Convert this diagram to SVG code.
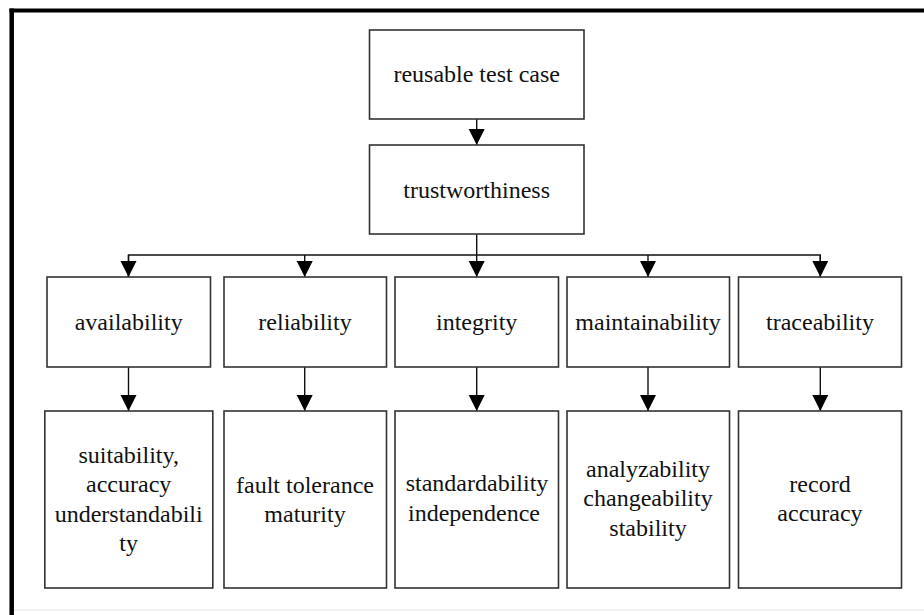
<svg xmlns="http://www.w3.org/2000/svg" width="924" height="615" viewBox="0 0 924 615">
<style>
.box{fill:#fff;stroke:#333;stroke-width:1.6}
.t{font-family:"Liberation Serif","Times New Roman",serif;font-size:24px;fill:#111;text-anchor:middle}
.c{fill:none;stroke:#111;stroke-width:1.4}
</style>
<defs>
<marker id="ah" markerUnits="userSpaceOnUse" markerWidth="16" markerHeight="18" refX="16" refY="8" orient="auto">
<path d="M0,0 L16,8 L0,16 Z" fill="#000"/>
</marker>
</defs>
<rect x="0" y="0" width="924" height="615" fill="#fff"/>
<g id="frame">
<line x1="9.5" y1="10.5" x2="924" y2="10.5" stroke="#000" stroke-width="4"/>
<line x1="11.7" y1="8.5" x2="11.7" y2="615" stroke="#000" stroke-width="4.5"/>
<line x1="14" y1="610" x2="924" y2="610" stroke="#eee" stroke-width="1.5"/>
</g>
<g id="connectors">
<line class="c" x1="476.7" y1="119" x2="476.7" y2="145" marker-end="url(#ah)"/>
<line class="c" x1="476.7" y1="234" x2="476.7" y2="277" marker-end="url(#ah)"/>
<polyline class="c" points="128.5,277 128.5,255 820.3,255 820.3,277"/>
<line class="c" x1="128.5" y1="255" x2="128.5" y2="277" marker-end="url(#ah)"/>
<line class="c" x1="304.7" y1="255" x2="304.7" y2="277" marker-end="url(#ah)"/>
<line class="c" x1="648" y1="255" x2="648" y2="277" marker-end="url(#ah)"/>
<line class="c" x1="820.3" y1="255" x2="820.3" y2="277" marker-end="url(#ah)"/>
<line class="c" x1="128.5" y1="367" x2="128.5" y2="411" marker-end="url(#ah)"/>
<line class="c" x1="304.7" y1="367" x2="304.7" y2="411" marker-end="url(#ah)"/>
<line class="c" x1="476.7" y1="367" x2="476.7" y2="411" marker-end="url(#ah)"/>
<line class="c" x1="648" y1="367" x2="648" y2="411" marker-end="url(#ah)"/>
<line class="c" x1="820.3" y1="367" x2="820.3" y2="411" marker-end="url(#ah)"/>
</g>
<g id="reusable">
<rect class="box" x="369.5" y="30" width="214.5" height="89"/>
<text class="t" x="476.7" y="82">reusable test case</text>
</g>
<g id="trustworthiness">
<rect class="box" x="369.5" y="145" width="214.5" height="89"/>
<text class="t" x="476.7" y="198">trustworthiness</text>
</g>
<g id="availability">
<rect class="box" x="47" y="277" width="163.5" height="90"/>
<text class="t" x="128.7" y="330">availability</text>
</g>
<g id="reliability">
<rect class="box" x="224" y="277" width="162.5" height="90"/>
<text class="t" x="305" y="330">reliability</text>
</g>
<g id="integrity">
<rect class="box" x="395" y="277" width="163.5" height="90"/>
<text class="t" x="476.7" y="330">integrity</text>
</g>
<g id="maintainability">
<rect class="box" x="567" y="277" width="162.5" height="90"/>
<text class="t" x="648" y="330">maintainability</text>
</g>
<g id="traceability">
<rect class="box" x="738.5" y="277" width="163" height="90"/>
<text class="t" x="820" y="330">traceability</text>
</g>
<g id="availability-sub">
<rect class="box" x="44.8" y="411" width="168" height="177"/>
<text class="t" x="128.7" y="463">suitability,</text>
<text class="t" x="128.7" y="492">accuracy</text>
<text class="t" x="128.7" y="522">understandabili</text>
<text class="t" x="128.7" y="551">ty</text>
</g>
<g id="reliability-sub">
<rect class="box" x="224" y="411" width="162.5" height="177"/>
<text class="t" x="305" y="493">fault tolerance</text>
<text class="t" x="305" y="522">maturity</text>
</g>
<g id="integrity-sub">
<rect class="box" x="395" y="411" width="163.5" height="177"/>
<text class="t" x="477" y="491">standardability</text>
<text class="t" x="474" y="521">independence</text>
</g>
<g id="maintainability-sub">
<rect class="box" x="567" y="411" width="162.5" height="177"/>
<text class="t" x="648" y="477">analyzability</text>
<text class="t" x="648" y="506">changeability</text>
<text class="t" x="648" y="536">stability</text>
</g>
<g id="traceability-sub">
<rect class="box" x="738.5" y="411" width="163" height="177"/>
<text class="t" x="820" y="492">record</text>
<text class="t" x="820" y="521">accuracy</text>
</g>
</svg>
